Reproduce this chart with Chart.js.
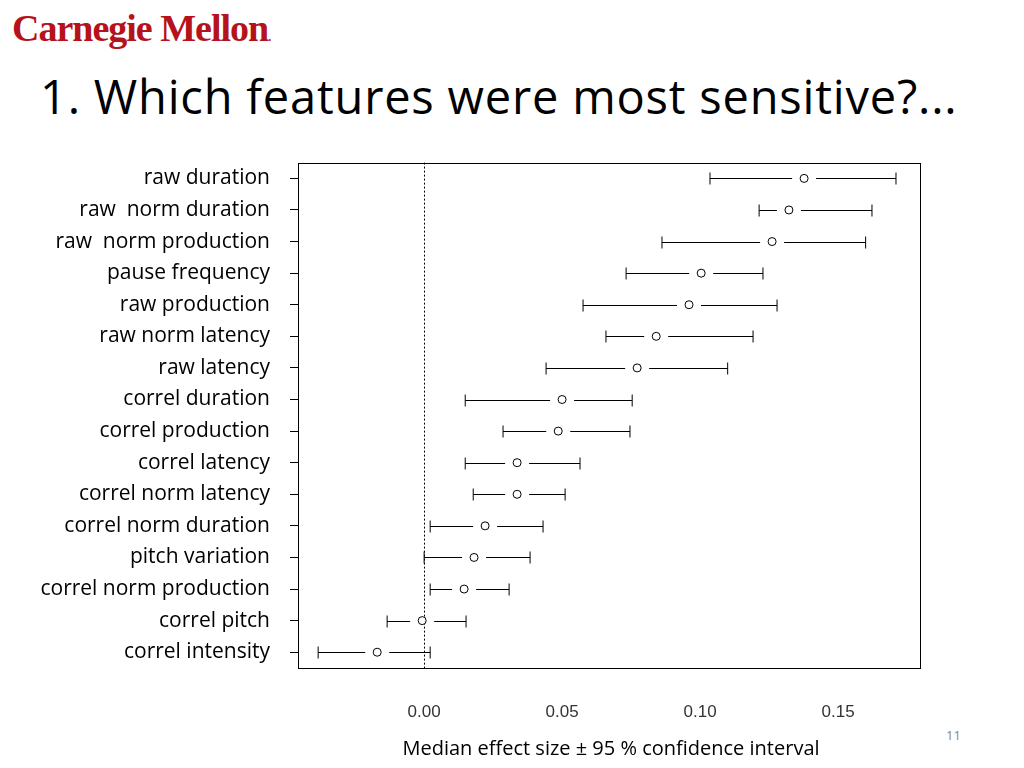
<!DOCTYPE html>
<html>
<head>
<meta charset="utf-8">
<script src="https://cdn.jsdelivr.net/npm/chart.js@4"></script>
<style>
  body { margin:0; width:1024px; height:768px; background:#fff; position:relative; overflow:hidden; font-family:"Open Sans", sans-serif; }
  #logo { position:absolute; left:12px; top:6px; font-family:"Liberation Serif", serif; font-weight:bold; font-size:38px; color:#b5121b; letter-spacing:-1px; }
  #title { position:absolute; left:40px; top:64px; font-size:47px; letter-spacing:0.8px; color:#000; font-family:"Open Sans", sans-serif; }
  #page { position:absolute; left:946px; top:726px; font-size:13px; color:#888; }
  #wrap { position:absolute; left:0; top:130px; width:1024px; height:638px; }
</style>
</head>
<body>
<div id="logo">Carnegie Mellon<span style="font-size:12px;">.</span></div>
<div id="title">1. Which features were most sensitive?...</div>
<div id="page">11</div>
<div id="wrap"><canvas id="c"></canvas></div>
<script>
var features = ["raw duration", "raw  norm duration", "raw  norm production", "pause frequency",
  "raw production", "raw norm latency", "raw latency", "correl duration", "correl production",
  "correl latency", "correl norm latency", "correl norm duration", "pitch variation",
  "correl norm production", "correl pitch", "correl intensity"];
var medians = [0.1377, 0.1322, 0.1261, 0.1004, 0.0960, 0.0841, 0.0772, 0.0500, 0.0486,
  0.0337, 0.0337, 0.0221, 0.0181, 0.0145, -0.0007, -0.0170];
var lowCI = [0.1036, 0.1214, 0.0862, 0.0732, 0.0576, 0.0659, 0.0442, 0.0149, 0.0286,
  0.0149, 0.0178, 0.0022, 0.0000, 0.0022, -0.0134, -0.0384];
var highCI = [0.1710, 0.1623, 0.1600, 0.1228, 0.1279, 0.1192, 0.1100, 0.0754, 0.0746,
  0.0565, 0.0511, 0.0431, 0.0384, 0.0308, 0.0152, 0.0022];
var xTicks = [0, 0.05, 0.10, 0.15];

var whiskers = {
  id: "whiskers",
  beforeDatasetsDraw: function(chart) {
    var ctx = chart.ctx, xs = chart.scales.x, ys = chart.scales.y, a = chart.chartArea;
    ctx.save();
    // dotted zero line
    ctx.strokeStyle = "#000"; ctx.lineWidth = 1; ctx.setLineDash([2, 2]);
    var x0 = Math.round(xs.getPixelForValue(0)) + 0.5;
    ctx.beginPath(); ctx.moveTo(x0, a.top); ctx.lineTo(x0, a.bottom); ctx.stroke();
    ctx.setLineDash([]);
    // box
    ctx.strokeRect(Math.round(a.left) + 0.5, Math.round(a.top) + 0.5, Math.round(a.right - a.left), Math.round(a.bottom - a.top));
    for (var i = 0; i < features.length; i++) {
      var y = Math.round(ys.getPixelForValue(i)) + 0.5;
      var l = xs.getPixelForValue(lowCI[i]), m = xs.getPixelForValue(medians[i]), h = xs.getPixelForValue(highCI[i]);
      ctx.beginPath();
      if (m - 12 > l) { ctx.moveTo(l, y); ctx.lineTo(m - 12, y); }
      if (m + 12 < h) { ctx.moveTo(m + 12, y); ctx.lineTo(h, y); }
      ctx.moveTo(l, y - 6); ctx.lineTo(l, y + 6);
      ctx.moveTo(h, y - 6); ctx.lineTo(h, y + 6);
      ctx.stroke();
    }
    ctx.restore();
  },
  afterDraw: function(chart) {
    var ctx = chart.ctx;
    ctx.save();
    ctx.fillStyle = "#000"; ctx.font = "20px 'Open Sans', sans-serif"; ctx.textAlign = "center";
    ctx.fillText("Median effect size \u00b1 95 % confidence interval", 611, 625);
    ctx.restore();
  }
};

new Chart(document.getElementById("c"), {
  type: "scatter",
  data: {
    labels: features,
    datasets: [{
      data: medians.map(function(v, i) { return { x: v, y: features[i] }; }),
      pointRadius: 4, pointBorderColor: "#000", pointBackgroundColor: "#fff", pointBorderWidth: 1
    }]
  },
  options: {
    responsive: true, maintainAspectRatio: false, animation: false,
    layout: { padding: { top: 0, right: 104, bottom: 0, left: 0 } },
    plugins: { legend: { display: false }, tooltip: { enabled: false } },
    scales: {
      y: {
        type: "category", labels: features, offset: true,
        afterFit: function(s) { s.width = 298; },
        grid: { drawOnChartArea: false, tickLength: 8, color: "#000" },
        border: { display: false },
        ticks: { color: "#000", padding: 20, font: { family: "Open Sans", size: 21 } }
      },
      x: {
        type: "linear", min: -0.0457, max: 0.1797,
        afterBuildTicks: function(s) { s.ticks = xTicks.map(function(v) { return { value: v }; }); },
        afterFit: function(s) { s.height = 100; },
        grid: { display: false }, border: { display: false },
        ticks: { color: "#333", padding: 26, font: { family: "Liberation Sans", size: 17 },
          callback: function(v) { return v.toFixed(2); } }
      }
    }
  },
  plugins: [whiskers]
});
</script>
</body>
</html>
